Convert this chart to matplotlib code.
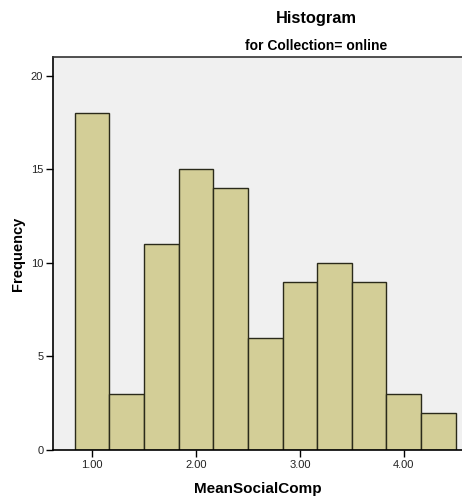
import matplotlib
matplotlib.use("Agg")
import matplotlib.pyplot as plt
import numpy as np

plt.rcParams['font.family'] = ['Liberation Sans', 'DejaVu Sans']

# Histogram bins (width 1/3) and counts
bin_edges = [0.8333, 1.1667, 1.5, 1.8333, 2.1667, 2.5, 2.8333, 3.1667, 3.5, 3.8333, 4.1667, 4.5]
counts = [18, 3, 11, 15, 14, 6, 9, 10, 9, 3, 2]
x_ticks = [1.0, 2.0, 3.0, 4.0]
x_tick_labels = ["1.00", "2.00", "3.00", "4.00"]
y_ticks = [0, 5, 10, 15, 20]

fig = plt.figure(figsize=(4.62, 4.99), dpi=100)
ax = fig.add_axes([53/462, 1 - 450/499, 1 - 53/462, (450 - 57)/499])
ax.set_facecolor('#F0F0F0')

edges = np.array(bin_edges)
ax.bar(edges[:-1], counts, width=np.diff(edges), align='edge',
       color='#D3CE97', edgecolor='#2a2a1a', linewidth=1.0, zorder=2)

ax.set_xlim(0.625, 4.56)
ax.set_ylim(0, 21)
ax.set_xticks(x_ticks)
ax.set_xticklabels(x_tick_labels)
ax.set_yticks(y_ticks)
ax.tick_params(axis='both', direction='out', length=5, width=1, labelsize=8,
               colors='black', pad=2)
ax.tick_params(axis='x', labelcolor='#222222')
ax.tick_params(axis='y', labelcolor='#222222')

for side in ['left', 'bottom']:
    ax.spines[side].set_linewidth(1.2)
    ax.spines[side].set_color('black')
ax.spines['top'].set_linewidth(1.2)
ax.spines['top'].set_color('#333333')
ax.spines['right'].set_visible(False)

ax.set_xlabel('MeanSocialComp', fontsize=11, fontweight='bold', labelpad=9)
ax.set_ylabel('Frequency', fontsize=10.5, fontweight='bold', labelpad=4)

fig.text(316/462, 1 - 18/499, 'Histogram', ha='center', va='center',
         fontsize=11.8, fontweight='bold')
fig.text(316/462, 1 - 46/499, 'for Collection= online', ha='center', va='center',
         fontsize=10, fontweight='bold')

fig.savefig('out.png', dpi=100)
